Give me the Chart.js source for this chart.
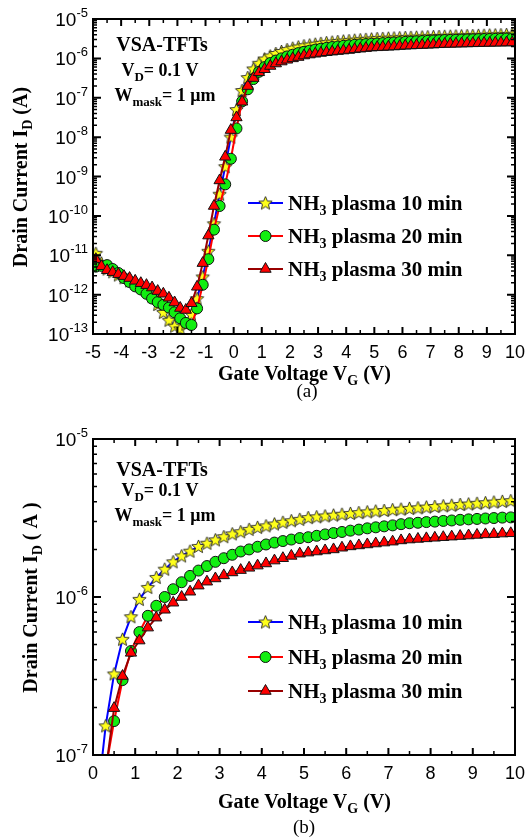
<!DOCTYPE html>
<html><head><meta charset="utf-8">
<script src="https://cdn.jsdelivr.net/npm/chart.js@4.4.1/dist/chart.umd.min.js"></script>
<style>
html,body{margin:0;padding:0;background:#fff;}
body{width:527px;height:839px;position:relative;overflow:hidden;}
canvas{position:absolute;left:0;}
#ca{top:0;} #cb{top:420px;}
</style></head><body>
<canvas id="ca" width="527" height="420"></canvas>
<canvas id="cb" width="527" height="419"></canvas>
<script>
// ---- data (gate voltage in V, drain current in A) ----
const gateVoltage = [-4.9,-4.7,-4.5,-4.3,-4.1,-3.9,-3.7,-3.5,-3.3,-3.1,-2.9,-2.7,-2.5,-2.3,-2.1,-1.9,-1.7,-1.5,-1.3,-1.1,-0.9,-0.7,-0.5,-0.3,-0.1,
 0.1,0.3,0.5,0.7,0.9,1.1,1.3,1.5,1.7,1.9,2.1,2.3,2.5,2.7,2.9,3.1,3.3,3.5,3.7,3.9,4.1,4.3,4.5,4.7,4.9,5.1,5.3,5.5,5.7,5.9,6.1,6.3,6.5,6.7,6.9,7.1,7.3,7.5,7.7,7.9,8.1,8.3,8.5,8.7,8.9,9.1,9.3,9.5,9.7,9.9];

const plasma10 = [1.12e-11,6.31e-12,4.47e-12,3.80e-12,3.16e-12,2.69e-12,2.24e-12,1.91e-12,1.58e-12,1.26e-12,8.91e-13,5.62e-13,3.55e-13,2.24e-13,1.58e-13,1.35e-13,1.78e-13,3.16e-13,7.94e-13,2.82e-12,1.26e-11,6.31e-11,3.55e-10,1.78e-9,1.0e-8,5.01e-8,
 1.53e-7,3.26e-7,5.40e-7,7.50e-7,9.66e-7,1.15e-6,1.33e-6,1.50e-6,1.67e-6,1.82e-6,1.95e-6,2.09e-6,2.19e-6,2.30e-6,2.41e-6,2.51e-6,2.59e-6,2.68e-6,2.76e-6,2.82e-6,2.90e-6,2.97e-6,3.04e-6,3.10e-6,3.18e-6,3.22e-6,3.26e-6,3.30e-6,3.34e-6,3.38e-6,3.42e-6,3.46e-6,3.50e-6,3.53e-6,3.57e-6,3.60e-6,3.64e-6,3.67e-6,3.71e-6,3.74e-6,3.78e-6,3.81e-6,3.85e-6,3.88e-6,3.92e-6,3.95e-6,3.99e-6,4.03e-6,4.07e-6];

const plasma20 = [5.13e-12,5.37e-12,5.62e-12,4.47e-12,3.55e-12,2.63e-12,2.09e-12,1.62e-12,1.35e-12,1.05e-12,7.94e-13,6.46e-13,5.50e-13,4.68e-13,3.55e-13,2.51e-13,1.91e-13,1.70e-13,4.47e-13,1.78e-12,7.94e-12,4.47e-11,1.78e-10,6.31e-10,2.82e-9,1.66e-8,
 8.1e-8,1.64e-7,2.98e-7,4.55e-7,6.0e-7,7.6e-7,8.8e-7,1.0e-6,1.12e-6,1.24e-6,1.36e-6,1.47e-6,1.57e-6,1.67e-6,1.76e-6,1.85e-6,1.94e-6,2.0e-6,2.08e-6,2.15e-6,2.21e-6,2.26e-6,2.31e-6,2.36e-6,2.39e-6,2.44e-6,2.49e-6,2.54e-6,2.58e-6,2.63e-6,2.67e-6,2.72e-6,2.76e-6,2.80e-6,2.84e-6,2.89e-6,2.93e-6,2.95e-6,2.98e-6,3.00e-6,3.03e-6,3.05e-6,3.08e-6,3.10e-6,3.12e-6,3.14e-6,3.16e-6,3.18e-6,3.19e-6];

const plasma30 = [7.94e-12,5.25e-12,4.17e-12,3.72e-12,3.31e-12,2.95e-12,2.63e-12,2.24e-12,1.95e-12,1.74e-12,1.51e-12,1.23e-12,1.05e-12,8.32e-13,6.31e-13,4.57e-13,4.07e-13,6.03e-13,1.58e-12,6.31e-12,3.16e-11,1.78e-10,7.94e-10,3.16e-9,1.51e-8,3.16e-8,
 7.9e-8,1.98e-7,3.16e-7,4.43e-7,5.3e-7,6.4e-7,7.4e-7,8.3e-7,9.2e-7,1.0e-6,1.08e-6,1.18e-6,1.25e-6,1.31e-6,1.37e-6,1.43e-6,1.48e-6,1.53e-6,1.58e-6,1.63e-6,1.70e-6,1.76e-6,1.82e-6,1.88e-6,1.91e-6,1.94e-6,1.97e-6,2.00e-6,2.05e-6,2.09e-6,2.12e-6,2.15e-6,2.18e-6,2.21e-6,2.24e-6,2.28e-6,2.31e-6,2.33e-6,2.35e-6,2.37e-6,2.39e-6,2.41e-6,2.43e-6,2.45e-6,2.47e-6,2.49e-6,2.50e-6,2.52e-6,2.53e-6];

const seriesNames = ['10 min','20 min','30 min'];
const xTickLabelsA = [-5,-4,-3,-2,-1,0,1,2,3,4,5,6,7,8,9,10];
const xTickLabelsB = [0,1,2,3,4,5,6,7,8,9,10];
const yDecadesA = [-13,-12,-11,-10,-9,-8,-7,-6,-5];
const yDecadesB = [-7,-6,-5];

// ---- helpers ----
const SERIF = '"Liberation Serif","Times New Roman",serif';
const SANS = '"Liberation Sans",Arial,sans-serif';
function makeStar(r){
  const s = Math.ceil(2*r+3), c = document.createElement('canvas');
  c.width = s; c.height = s;
  const g = c.getContext('2d');
  g.translate(s/2, s/2+0.5);
  g.beginPath();
  for (let i=0;i<10;i++){
    const rr = (i%2) ? r*0.45 : r;
    const an = -Math.PI/2 + i*Math.PI/5;
    g.lineTo(rr*Math.cos(an), rr*Math.sin(an));
  }
  g.closePath();
  g.fillStyle = '#ffff1a'; g.fill();
  g.lineWidth = 0.9; g.strokeStyle = '#222'; g.stroke();
  return c;
}
const starImg = makeStar(7);

function richWidth(ctx, parts){ let w=0; for(const p of parts){ ctx.font=p.font; w+=ctx.measureText(p.t).width; } return w; }
function drawRich(ctx, parts, x, y, align){
  const w = richWidth(ctx, parts);
  let cx = align==='center' ? x-w/2 : (align==='right' ? x-w : x);
  ctx.textAlign='left'; ctx.textBaseline='alphabetic';
  for (const p of parts){ ctx.font=p.font; ctx.fillText(p.t, cx, y+(p.dy||0)); cx += ctx.measureText(p.t).width; }
}
const B = (s)=>'bold '+s+'px '+SERIF;

function drawMarker(ctx, ds, x, y){
  if (ds.pointStyle instanceof HTMLCanvasElement){
    ctx.drawImage(ds.pointStyle, x-ds.pointStyle.width/2, y-ds.pointStyle.height/2);
  } else {
    ctx.save();
    ctx.fillStyle = ds.pointBackgroundColor; ctx.strokeStyle = ds.pointBorderColor; ctx.lineWidth = ds.pointBorderWidth;
    Chart.helpers.drawPoint(ctx, {pointStyle: ds.pointStyle, radius: ds.pointRadius, rotation: 0, borderWidth: ds.pointBorderWidth}, x, y);
    ctx.restore();
  }
}

const decor = {
  id: 'decor',
  afterDraw(chart, args, o){
    const ctx = chart.ctx, a = chart.chartArea, xs = chart.scales.x, ys = chart.scales.y;
    ctx.save();
    ctx.strokeStyle = '#000'; ctx.fillStyle = '#000';
    ctx.lineWidth = 2;
    ctx.strokeRect(a.left, a.top, a.right-a.left, a.bottom-a.top);
    // x ticks
    xs.ticks.forEach(t=>{
      const px = xs.getPixelForValue(t.value);
      const major = o.xLabels.includes(t.value);
      const len = major ? 7 : 4;
      ctx.lineWidth = major ? 2 : 1.5;
      ctx.beginPath();
      ctx.moveTo(px, a.bottom); ctx.lineTo(px, a.bottom-len);
      ctx.moveTo(px, a.top); ctx.lineTo(px, a.top+len);
      ctx.stroke();
    });
    ctx.font = '18px '+SANS; ctx.textAlign='center'; ctx.textBaseline='alphabetic';
    o.xLabels.forEach(v=>{ ctx.fillText(String(v), xs.getPixelForValue(v), a.bottom+24); });
    // y ticks
    ys.ticks.forEach(t=>{
      const py = ys.getPixelForValue(t.value);
      const lg = Math.log10(t.value);
      const major = Math.abs(lg-Math.round(lg))<1e-6;
      const len = major ? 8 : 4;
      ctx.lineWidth = major ? 2 : 1.5;
      ctx.beginPath();
      ctx.moveTo(a.left, py); ctx.lineTo(a.left+len, py);
      ctx.moveTo(a.right, py); ctx.lineTo(a.right-len, py);
      ctx.stroke();
    });
    o.yDecades.forEach(e=>{
      const py = ys.getPixelForValue(Math.pow(10,e));
      const sup = String(e);
      ctx.font = '13px '+SANS;
      const sw = ctx.measureText(sup).width;
      const xr = a.left-5;
      ctx.textAlign='left'; ctx.fillText(sup, xr-sw, py-2);
      ctx.font = '19px '+SANS; ctx.textAlign='right';
      ctx.fillText('10', xr-sw, py+7);
    });
    // axis titles
    drawRich(ctx, [{t:'Gate Voltage V',font:B(20)},{t:'G',font:B(14),dy:5},{t:' (V)',font:B(20)}], 304.5, a.bottom+o.xTitleDy, 'center');
    ctx.save();
    ctx.translate(o.yTitleX, o.yTitleY);
    ctx.rotate(-Math.PI/2);
    drawRich(ctx, [{t:'Drain Current I',font:B(20)},{t:'D',font:B(14),dy:5},{t:o.yUnit,font:B(20)}], 0, 0, 'center');
    ctx.restore();
    // annotations
    drawRich(ctx, [{t:'VSA-TFTs',font:B(20)}], 162, a.top+o.annDy[0], 'center');
    drawRich(ctx, [{t:'V',font:B(18)},{t:'D',font:B(13),dy:5},{t:'= 0.1 V',font:B(18)}], 160, a.top+o.annDy[1], 'center');
    drawRich(ctx, [{t:'W',font:B(18)},{t:'mask',font:B(13),dy:5},{t:'= 1 \u03bcm',font:B(18)}], 165, a.top+o.annDy[2], 'center');
    // legend
    chart.data.datasets.forEach((ds,i)=>{
      const y = o.legendY[i];
      ctx.strokeStyle = ds.borderColor; ctx.lineWidth = 2;
      ctx.beginPath(); ctx.moveTo(248, y); ctx.lineTo(283, y); ctx.stroke();
      drawMarker(ctx, ds, 265.5, y);
      ctx.fillStyle = '#000';
      drawRich(ctx, [{t:'NH',font:B(21)},{t:'3',font:B(14),dy:5},{t:' plasma '+seriesNames[i],font:B(21)}], 288, y+7, 'left');
    });
    // caption
    ctx.font = '19px '+SERIF; ctx.textAlign='center'; ctx.fillStyle='#000';
    ctx.fillText(o.caption, o.captionX, o.captionY);
    ctx.restore();
  }
};

function pts(vals, xmin){
  const out = [];
  gateVoltage.forEach((x,i)=>{ if (x>=xmin) out.push({x:x, y:vals[i]}); });
  return out;
}

function makeChart(id, cfg){
  const datasets = [
    {label:'NH3 plasma 10 min', data:pts(plasma10,cfg.xmin), borderColor:'#0000ff', borderWidth:2, pointStyle:starImg, pointRadius:7, pointBackgroundColor:'#ffff1a', pointBorderColor:'#222', pointBorderWidth:1, order:3, clip:0},
    {label:'NH3 plasma 20 min', data:pts(plasma20,cfg.xmin), borderColor:'#ff0000', borderWidth:2, pointStyle:'circle', pointRadius:5.5, pointBackgroundColor:'#11ee11', pointBorderColor:'#111', pointBorderWidth:1, order:2, clip:0},
    {label:'NH3 plasma 30 min', data:pts(plasma30,cfg.xmin), borderColor:'#990000', borderWidth:2, pointStyle:'triangle', pointRadius:6.5, pointBackgroundColor:'#ff0000', pointBorderColor:'#111', pointBorderWidth:1, order:1, clip:0}
  ];
  return new Chart(document.getElementById(id), {
    type:'line',
    data:{datasets},
    plugins:[decor],
    options:{
      responsive:false, animation:false, devicePixelRatio:1,
      layout:{padding:{left:93, top:19, right:12, bottom:cfg.padBottom}},
      plugins:{legend:{display:false}, tooltip:{enabled:false},
        decor:{xLabels:cfg.xLabels, yDecades:cfg.yDecades, xTitleDy:cfg.xTitleDy, yTitleX:cfg.yTitleX, yTitleY:cfg.yTitleY, yUnit:cfg.yUnit,
               annDy:cfg.annDy, legendY:cfg.legendY, caption:cfg.caption, captionX:cfg.captionX, captionY:cfg.captionY}},
      scales:{
        x:{type:'linear', min:cfg.xLabels[0], max:cfg.xLabels[cfg.xLabels.length-1],
           ticks:{display:false}, grid:{display:false, drawTicks:false}, border:{display:false},
           afterBuildTicks:(s)=>{ const t=[]; const L=cfg.xLabels; for(let k=0;k<L.length;k++){ t.push({value:L[k]}); if(k<L.length-1) t.push({value:(L[k]+L[k+1])/2}); } s.ticks=t; }},
        y:{type:'logarithmic', min:Math.pow(10,cfg.yDecades[0]), max:Math.pow(10,cfg.yDecades[cfg.yDecades.length-1]),
           ticks:{display:false}, grid:{display:false, drawTicks:false}, border:{display:false},
           afterBuildTicks:(s)=>{ const t=[]; const D=cfg.yDecades; for(let k=0;k<D.length;k++){ const b=Math.pow(10,D[k]); t.push({value:b}); if(k<D.length-1){ for(let m=2;m<10;m++) t.push({value:m*b}); } } s.ticks=t; }}
      }
    }
  });
}

makeChart('ca', {xmin:-5, xLabels:xTickLabelsA, yDecades:yDecadesA, padBottom:86, xTitleDy:46, yTitleX:27, yTitleY:177, yUnit:' (A)',
  annDy:[32,57,82], legendY:[203,236,269], caption:'(a)', captionX:307, captionY:397});
makeChart('cb', {xmin:0, xLabels:xTickLabelsB, yDecades:yDecadesB, padBottom:84, xTitleDy:53, yTitleX:37, yTitleY:177.5, yUnit:' ( A )',
  annDy:[37,57,82], legendY:[202,237,271], caption:'(b)', captionX:304, captionY:413});
</script></body></html>
